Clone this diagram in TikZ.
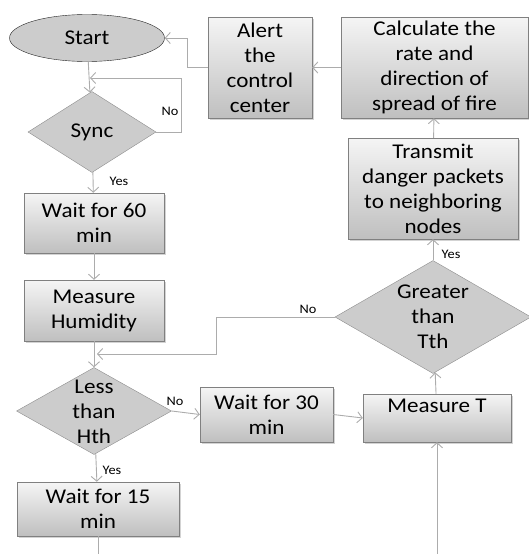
\documentclass[tikz,border=0pt]{standalone}
\usepackage{fontspec}
\setmainfont{Carlito}[FakeStretch=1.1]
\usetikzlibrary{shapes.geometric,arrows.meta,shadows}

\tikzset{
  box/.style={draw=gray, top color=gray!8, bottom color=gray!50, inner sep=0pt, align=center,
    drop shadow={shadow xshift=1.5pt, shadow yshift=-1.5pt, opacity=0.35},
    font=\fontsize{21}{25}\selectfont},
  dec/.style={diamond, draw=gray!90, fill=gray!40, inner sep=0pt},
  dectxt/.style={align=center, font=\fontsize{21}{25}\selectfont},
  link/.style={draw=gray!65, line width=0.9pt, -{Straight Barb[length=5pt,width=11pt]}},
  bare/.style={draw=gray!65, line width=0.9pt},
  lbl/.style={font=\fontsize{13}{15}\selectfont}
}

\begin{document}
\begin{tikzpicture}[x=1pt, y=-1pt]
            \useasboundingbox (0,0) rectangle (529,554);

            % Noeuds
            \node[ellipse, draw=gray!30!black, fill=gray!40, minimum width=155pt, minimum height=47pt,
                  font=\fontsize{21}{25}\selectfont] (start) at (87,38) {Start};

            \node[box, minimum width=104pt, minimum height=101pt] (alert) at (260,67.5) {Alert\\the\\control\\center};

            \node[box, minimum width=187pt, minimum height=101pt] (calc) at (434.5,67.5) {Calculate the\\rate and\\direction of\\spread of fire};

            \node[box, minimum width=170pt, minimum height=101pt] (transmit) at (433,188.5) {Transmit\\danger packets\\to neighboring\\nodes};

            \node[dec, minimum width=128pt, minimum height=81pt] (sync) at (92,132) {};
            \node[dectxt] (synctxt) at (sync) {Sync};

            \node[box, minimum width=140pt, minimum height=60pt] (wait60) at (94,223) {Wait for 60\\min};

            \node[box, minimum width=140pt, minimum height=61pt] (humid) at (94,310.5) {Measure\\Humidity};

            \node[dec, minimum width=155pt, minimum height=87pt] (less) at (94,411) {};
            \node[dectxt] (lesstxt) at (94,412) {Less\\than\\Hth};

            \node[box, minimum width=133pt, minimum height=55pt] (wait30) at (266.5,414.5) {Wait for 30\\min};

            \node[box, minimum width=148pt, minimum height=48pt] (meast) at (437,418) {Measure T\\\mbox{}};

            \node[dec, minimum width=196pt, minimum height=113pt] (greater) at (433,317) {};
            \node[dectxt] (greatertxt) at (greater) {Greater\\than\\Tth};

            \node[box, minimum width=162pt, minimum height=54pt] (wait15) at (98,509) {Wait for 15\\min};

            % Points libres
            \coordinate (syncloop) at (181,78);
            \coordinate (syncin) at (90,78);
            \coordinate (alertbend) at (187,38);
            \coordinate (gbend) at (216,354);
            \coordinate (gin) at (97,354);
            \coordinate (wbot) at (98,554);
            \coordinate (mbot) at (437,554);

            % Arêtes
            \draw[link] (start) -- (sync);
            \draw[link] (sync.east) -| (syncloop) -- (syncin);
            \draw[link] (sync) -- (wait60);
            \draw[link] (wait60) -- (humid);
            \draw[link] (humid) -- (less);
            \draw[link] (greater.west) -| (gbend) -- (gin);
            \draw[link] (less.east) -- (wait30.west);
            \draw[link] (less) -- (wait15);
            \draw[link] (wait30.east) -- (meast.west);
            \draw[link] (meast) -- (greater);
            \draw[link] (greater) -- (transmit);
            \draw[link] (transmit) -- (calc);
            \draw[link] (calc) -- (alert);
            \draw[link] (alert.west) -| (alertbend) -- (start.east);
            \draw[bare] (wait15) -- (wbot);
            \draw[link] (mbot) -- (meast.south);

            % Etiquettes
            \node[lbl] (nosync) at (170,111) {No};
            \node[lbl] (yessync) at (119,181) {Yes};
            \node[lbl] (noless) at (175,401) {No};
            \node[lbl] (yesless) at (112,470) {Yes};
            \node[lbl] (nogreater) at (308,309) {No};
            \node[lbl] (yesgreater) at (451,254) {Yes};
        \end{tikzpicture}
\end{document}
